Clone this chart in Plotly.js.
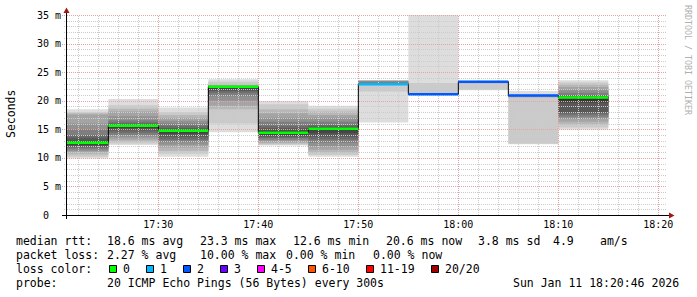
<!DOCTYPE html>
<html><head><meta charset="utf-8">
<script src="https://cdn.plot.ly/plotly-3.0.1.min.js"></script>
<style>html,body{margin:0;padding:0;background:#fff}#chart{width:697px;height:297px}</style>
</head><body><div id="chart"></div>
<script>
// ---------------- data ----------------
const periodStarts = ['17:20','17:25','17:30','17:35','17:40','17:45','17:50','17:55','18:00','18:05','18:10'];
const periodMinutes = 5;
const medianRtt = [12.65, 15.6, 14.75, 22.45, 14.4, 15.1, 22.9, 21.15, 23.3, 20.9, 20.55];
const lostPings = [0, 0, 0, 0, 0, 0, 1, 2, 2, 2, 0];
// sorted ping times (ms) of the received pings in each period
const pings1720 = [9.9, 10.2, 10.6, 11.0, 11.2, 11.5, 11.8, 12.0, 12.2, 12.5, 12.8, 13.0, 13.5, 14.0, 15.0, 16.0, 17.6, 17.8, 18.0, 18.5];
const pings1725 = [12.25, 12.5, 12.8, 13.2, 13.6, 14.0, 14.4, 14.8, 15.2, 15.5, 15.65, 15.75, 15.9, 16.2, 16.6, 17.3, 18.1, 18.6, 19.2, 20.3];
const pings1730 = [10.2, 10.7, 11.2, 11.8, 12.3, 12.8, 13.2, 13.7, 14.2, 14.6, 14.8, 15.0, 15.2, 15.6, 16.0, 16.5, 17.0, 17.5, 18.0, 18.8];
const pings1735 = [14.5, 16.0, 18.5, 19.1, 20.0, 20.8, 21.4, 21.7, 22.0, 22.3, 22.45, 22.46, 22.48, 22.5, 22.55, 22.6, 22.7, 22.9, 23.3, 23.75];
const pings1740 = [12.15, 12.3, 12.5, 12.7, 13.0, 13.2, 13.5, 13.7, 14.0, 14.3, 14.55, 14.8, 15.2, 15.6, 16.3, 17.0, 17.8, 18.5, 19.4, 19.95];
const pings1745 = [10.2, 10.5, 10.9, 11.4, 12.0, 12.65, 13.2, 13.7, 14.3, 14.9, 15.2, 15.3, 15.5, 15.8, 16.3, 17.0, 17.5, 18.1, 18.6, 19.1];
const pings1750 = [16.2, 21.6, 22.7, 22.8, 22.85, 22.88, 22.9, 22.9, 22.9, 22.92, 22.95, 23.0, 23.1, 23.3, 23.45, 23.5, 23.55, 23.58, 23.6];
const pings1755 = [21.0, 21.05, 21.08, 21.1, 21.11, 21.12, 21.13, 21.14, 21.15, 21.16, 21.18, 21.2, 21.22, 21.25, 21.3, 21.35, 23.1, 37.0];
const pings1800 = [21.85, 21.9, 23.0, 23.2, 23.25, 23.27, 23.28, 23.29, 23.3, 23.3, 23.31, 23.32, 23.33, 23.35, 23.38, 23.4, 23.45, 23.5];
const pings1805 = [12.4, 12.45, 20.5, 20.7, 20.8, 20.85, 20.88, 20.9, 20.9, 20.92, 20.94, 20.96, 20.98, 21.0, 21.02, 21.05, 21.15, 21.7];
const pings1810 = [14.9, 15.3, 15.8, 16.3, 16.8, 17.2, 17.6, 17.9, 19.65, 20.0, 20.4, 20.6, 20.8, 21.0, 21.4, 21.9, 22.4, 22.9, 23.2, 23.6];
const periodPings = [pings1720, pings1725, pings1730, pings1735, pings1740, pings1745, pings1750, pings1755, pings1800, pings1805, pings1810];

const yTickVals = [0, 5, 10, 15, 20, 25, 30, 35];
const yTickLabels = ['0\u00a0\u00a0', '5 m', '10 m', '15 m', '20 m', '25 m', '30 m', '35 m'];
const xTickLabels = ['17:30', '17:40', '17:50', '18:00', '18:10', '18:20'];
const lossLabels = ['0', '1', '2', '3', '4-5', '6-10', '11-19', '20/20'];
const lossUpper = [0, 1, 2, 3, 5, 10, 19, 20];
const lossColors = ['#00ff00', '#00b8ff', '#0059ff', '#6a00ff', '#ff00ff', '#ff5500', '#ff0000', '#a00000'];

const statsRtt = ['median rtt:', '18.6 ms avg', '23.3 ms max', '12.6 ms min', '20.6 ms now', '3.8 ms sd', '4.9', 'am/s'];
const statsLoss = ['packet loss:', '2.27 % avg', '10.00 % max', '0.00 % min', '0.00 % now'];
const probeLine = ['probe:', '20 ICMP Echo Pings (56 Bytes) every 300s', 'Sun Jan 11 18:20:46 2026'];
const lossColorTitle = 'loss color:';
const yTitle = 'Seconds';
const watermark = 'RRDTOOL / TOBI OETIKER';

// ---------------- layout helpers ----------------
const W = 697, H = 297, L = 67, T = 15, PW = 600, PH = 200;
const px = x => (x - L) / PW;          // pixel -> paper x
const py = y => (T + PH - y) / PH;     // pixel -> paper y
const toMs = hm => { const [h, m] = hm.split(':').map(Number); return Date.UTC(2026, 0, 11, h, m); };
const rangeStart = toMs('17:20') + 52000;
const rangeEnd = rangeStart + 3600000;
const yMax = 35;
const tx = t => L + (t - rangeStart) / (rangeEnd - rangeStart) * PW;
const xt = c => rangeStart + (c - L) / PW * (rangeEnd - rangeStart);
const vy = v => T + PH - v / yMax * PH;
const yv = r => (T + PH - r) / PH * yMax;

const smokeShades = ['#dddddd', '#cacaca', '#b7b7b7', '#a4a4a4', '#919191', '#7e7e7e', '#6b6b6b', '#585858', '#454545', '#323232'];
const mono = 'DejaVu Sans Mono, monospace';
const minorCol = '#cccccc', majorCol = '#e8a4a4', dotted = '1px,1px';

const starts = periodStarts.map(toMs);
const dur = periodMinutes * 60000;
const centers = starts.map(s => s + dur / 2);

const traces = [];
// smoke bands: nested ranges between the k-th fastest and k-th slowest ping
for (let k = 0; k < smokeShades.length; k++) {
  const base = [], len = [];
  periodPings.forEach(p => {
    const n = p.length;
    if (k < Math.floor(n / 2)) { base.push(p[k]); len.push(p[n - 1 - k] - p[k]); }
    else { base.push(null); len.push(null); }
  });
  traces.push({type: 'bar', x: centers, y: len, base: base, width: dur,
    marker: {color: smokeShades[k], line: {width: 0}}, hoverinfo: 'skip', showlegend: false});
}

// ---------------- grid (above the smoke, below the median line, like rrdtool) ----------------
const shapes = [];
const gx = {minor: [], major: []}, gy = {minor: [], major: []};
for (let v = 1; v <= yMax; v++) {
  const row = Math.round(vy(v));
  const g = v % 5 === 0 ? 'major' : 'minor';
  const yy = yv(row + 0.5);
  gx[g].push(rangeStart, rangeEnd, null); gy[g].push(yy, yy, null);
  shapes.push({type: 'line', xref: 'paper', yref: 'paper', x0: px(g === 'major' ? 62 : 64), x1: px(67),
    y0: py(row + 0.5), y1: py(row + 0.5), line: {color: g === 'major' ? majorCol : minorCol, width: 1, dash: dotted}});
}
for (let t = toMs('17:22'); t < rangeEnd; t += 120000) {
  const col = Math.round(tx(t));
  const g = ((t - toMs('17:00')) / 60000) % 10 === 0 ? 'major' : 'minor';
  const xx = xt(col + 0.5);
  gx[g].push(xx, xx, null); gy[g].push(0, yMax, null);
}
['minor', 'major'].forEach(g => traces.push({type: 'scatter', mode: 'lines', x: gx[g], y: gy[g],
  line: {color: g === 'major' ? majorCol : minorCol, width: 1, dash: dotted}, hoverinfo: 'skip', showlegend: false}));

// black median step line
traces.push({type: 'scatter', mode: 'lines', x: starts.concat([starts[starts.length - 1] + dur]),
  y: medianRtt.concat([medianRtt[medianRtt.length - 1]]), line: {shape: 'hv', color: '#000000', width: 1},
  hoverinfo: 'skip', showlegend: false});
// coloured median segments by loss class
const lossClass = n => lossUpper.findIndex(u => n <= u);
lossLabels.forEach((lab, ci) => {
  const xs = [], ys = [];
  medianRtt.forEach((m, i) => {
    if (lossClass(lostPings[i]) === ci) { xs.push(starts[i], starts[i] + dur, null); ys.push(m, m, null); }
  });
  if (xs.length) traces.push({type: 'scatter', mode: 'lines', x: xs, y: ys,
    line: {color: lossColors[ci], width: 2.5}, hoverinfo: 'skip', showlegend: false});
});

// axes and arrows
shapes.push({type: 'line', xref: 'paper', yref: 'paper', layer: 'above', x0: px(62), x1: px(670), y0: py(215.5), y1: py(215.5), line: {color: '#000', width: 1}});
shapes.push({type: 'line', xref: 'paper', yref: 'paper', layer: 'above', x0: px(66.5), x1: px(66.5), y0: py(219), y1: py(12), line: {color: '#000', width: 1}});
shapes.push({type: 'path', xref: 'paper', yref: 'paper', layer: 'above',
  path: `M ${px(63.5)} ${py(13)} L ${px(69.5)} ${py(13)} L ${px(66.5)} ${py(7.5)} Z`, fillcolor: '#9e1818', line: {width: 0}});
shapes.push({type: 'path', xref: 'paper', yref: 'paper', layer: 'above',
  path: `M ${px(669)} ${py(212.5)} L ${px(669)} ${py(218.5)} L ${px(674.5)} ${py(215.5)} Z`, fillcolor: '#9e1818', line: {width: 0}});

// ---------------- legend text ----------------
const ann = [];
const txt = (text, x, yMid) => ann.push({text: text, xref: 'paper', yref: 'paper',
  x: px(x), y: py(yMid), xanchor: 'left', yanchor: 'middle', showarrow: false, borderpad: 0, borderwidth: 0,
  font: {family: mono, size: 11.5, color: '#000'}});
const rttX = [16, 107, 200, 293, 386, 478, 553, 600];
statsRtt.forEach((s, i) => txt(s, rttX[i], 241));
const lossX = [16, 107, 200, 286, 373];
statsLoss.forEach((s, i) => txt(s, lossX[i], 255));
txt(lossColorTitle, 16, 269);
let bx = 109;
lossLabels.forEach((lab, i) => {
  shapes.push({type: 'rect', xref: 'paper', yref: 'paper', x0: px(bx + 0.5), x1: px(bx + 7.5), y0: py(265.5), y1: py(272.5),
    fillcolor: lossColors[i], line: {color: '#000', width: 1}});
  txt(lab, bx + 14, 269);
  bx += 14 + 7 * lab.length + 16;
});
const probeX = [16, 107, 513];
probeLine.forEach((s, i) => txt(s, probeX[i], 283));
ann.push({text: yTitle, xref: 'paper', yref: 'paper', x: px(11), y: py(114), xanchor: 'center', yanchor: 'middle',
  textangle: -90, showarrow: false, font: {family: mono, size: 11.5, color: '#000'}});
ann.push({text: watermark, xref: 'paper', yref: 'paper', x: px(688), y: py(60), xanchor: 'center', yanchor: 'middle',
  textangle: 90, showarrow: false, font: {family: mono, size: 8.3, color: '#b0b0b0'}});

const layout = {
  width: W, height: H, margin: {l: L, r: W - L - PW, t: T, b: H - T - PH, pad: 0},
  paper_bgcolor: '#ffffff', plot_bgcolor: '#ffffff', barmode: 'overlay', showlegend: false,
  xaxis: {type: 'date', range: [rangeStart, rangeEnd], showgrid: false, zeroline: false, showline: false,
    tickvals: xTickLabels.map(toMs), ticktext: xTickLabels, ticks: '', ticklabelstandoff: 2,
    tickfont: {family: mono, size: 10, color: '#000'}},
  yaxis: {range: [0, yMax], showgrid: false, zeroline: false, showline: false,
    tickvals: yTickVals, ticktext: yTickLabels, ticks: '', ticklabelstandoff: 5,
    tickfont: {family: mono, size: 10, color: '#000'}},
  shapes: shapes, annotations: ann
};
Plotly.newPlot('chart', traces, layout, {displayModeBar: false, staticPlot: true});
</script></body></html>
